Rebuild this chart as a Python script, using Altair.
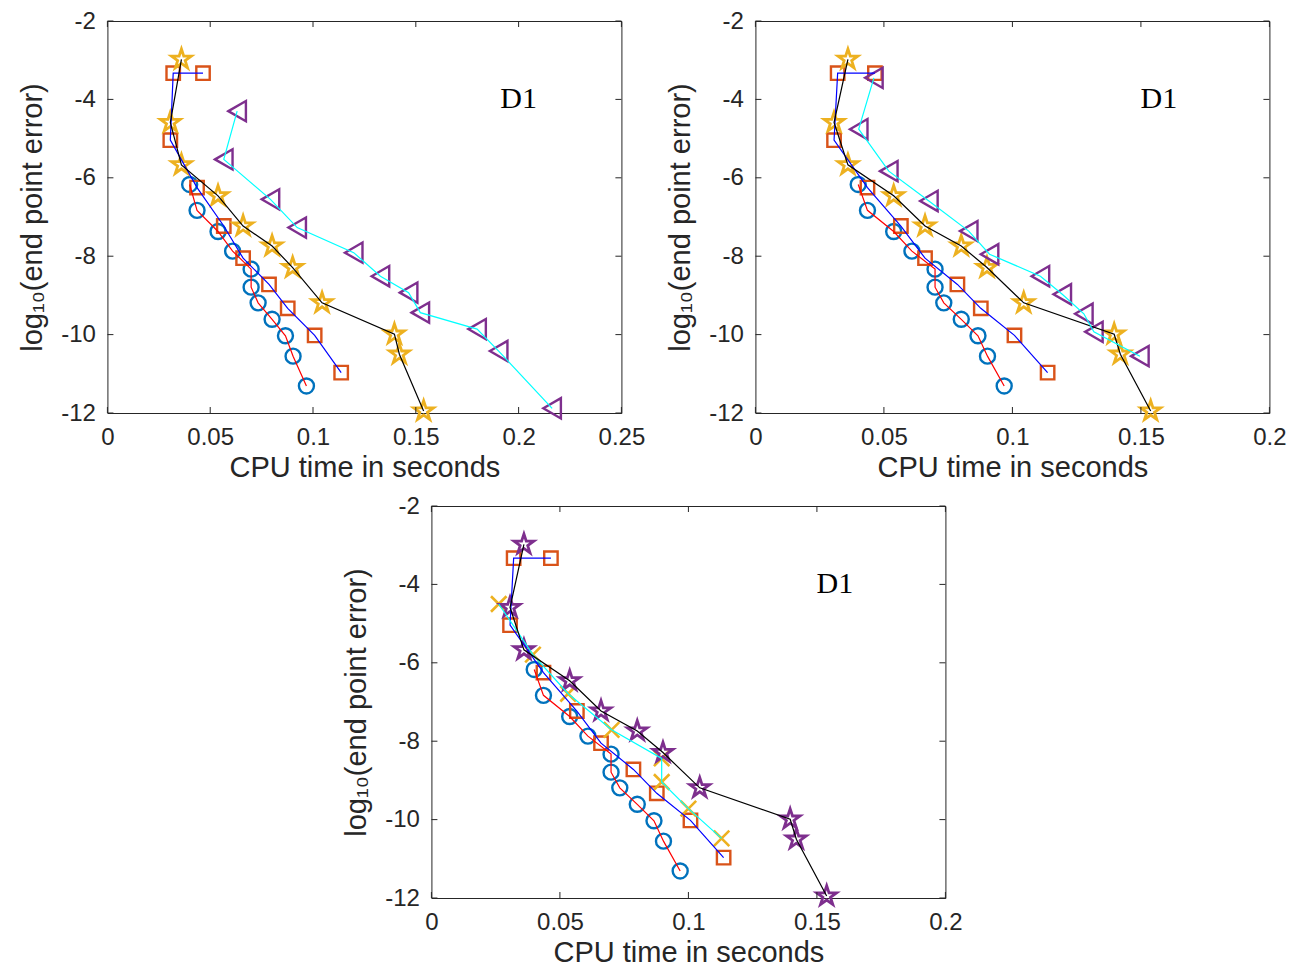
import altair as alt
import pandas as pd

FONT = "Liberation Sans"
TXT = "#262626"

# ---- data ----
circ_x = [0.0400, 0.0436, 0.0538, 0.0609, 0.0699, 0.0699, 0.0733, 0.0801, 0.0866, 0.0903, 0.0968]
circ_y = [-6.17, -6.83, -7.37, -7.87, -8.33, -8.79, -9.19, -9.61, -10.03, -10.55, -11.31]

sq_x = [0.0465, 0.0320, 0.0306, 0.0436, 0.0566, 0.0660, 0.0786, 0.0877, 0.1008, 0.1137]
sq_y = [-3.33, -3.33, -5.04, -6.25, -7.23, -8.05, -8.72, -9.33, -10.02, -10.97]

star_x = [0.0360, 0.0306, 0.0360, 0.0538, 0.0660, 0.0801, 0.0901, 0.1044, 0.1396, 0.1420, 0.1538]
star_y = [-2.98, -4.59, -5.67, -6.46, -7.23, -7.74, -8.29, -9.19, -9.99, -10.50, -11.95]

tri1_x = [0.0631, 0.0566, 0.0793, 0.0923, 0.1198, 0.1328, 0.1465, 0.1522, 0.1798, 0.1903, 0.2163]
tri1_y = [-4.30, -5.53, -6.55, -7.27, -7.91, -8.51, -8.93, -9.44, -9.86, -10.42, -11.88]

tri2_x = [0.0461, 0.0402, 0.0519, 0.0675, 0.0830, 0.0911, 0.1109, 0.1194, 0.1278, 0.1317, 0.1496]
tri2_y = [-3.45, -4.76, -5.83, -6.59, -7.36, -7.95, -8.51, -8.97, -9.47, -9.93, -10.55]

cross_x = [0.0262, 0.0395, 0.0532, 0.0701, 0.0896, 0.0896, 0.1000, 0.1129]
cross_y = [-4.50, -5.79, -6.79, -7.71, -8.44, -9.04, -9.72, -10.48]

x_ticks_1 = [0, 0.05, 0.1, 0.15, 0.2, 0.25]
x_ticks_2 = [0, 0.05, 0.1, 0.15, 0.2]
y_ticks = [-12, -10, -8, -6, -4, -2]

note_text = ["D1"]
note_x = [0.2, 0.157, 0.157]
note_y = [-4.0, -4.0, -4.0]

X_TITLE = "CPU time in seconds"
Y_TITLE = "log\u2081\u2080(end point error)"

CROSS = "M-1,-1L1,1M1,-1L-1,1"
STAR = ("M0,-1L0.2245,-0.309L0.951,-0.309L0.3633,0.118L0.588,0.809L0,0.382"
        "L-0.588,0.809L-0.3633,0.118L-0.951,-0.309L-0.2245,-0.309Z")

W, H = 514, 392


def frame(xs, ys):
    return pd.DataFrame({"x": xs, "y": ys, "i": list(range(len(xs)))})


def panel(series, xmax, xticks, nx, ny):
    xenc = alt.X(
        "x:Q",
        scale=alt.Scale(domain=[0, xmax], nice=False, zero=False),
        axis=alt.Axis(values=xticks, labelExpr="'' + datum.value", ticks=False, tickSize=0,
                      domain=False, grid=False, labelFont=FONT, labelFontSize=24,
                      labelColor=TXT, labelPadding=12, labelFlush=False, labelOverlap=False,
                      titleFont=FONT, titleFontSize=29, titleColor=TXT,
                      titleFontWeight="normal", titlePadding=4),
        title=X_TITLE,
    )
    yenc = alt.Y(
        "y:Q",
        scale=alt.Scale(domain=[-12, -2], nice=False, zero=False),
        axis=alt.Axis(values=y_ticks, labelExpr="'' + datum.value", ticks=False, tickSize=0,
                      domain=False, grid=False, labelFont=FONT, labelFontSize=24,
                      labelColor=TXT, labelPadding=12, labelFlush=False, labelOverlap=False,
                      titleFont=FONT, titleFontSize=29, titleColor=TXT,
                      titleFontWeight="normal", titlePadding=13),
        title=Y_TITLE,
    )
    layers = []
    for s in series:
        d = frame(s["x"], s["y"])
        layers.append(
            alt.Chart(d).mark_point(shape=s["shape"], size=s["size"], filled=False,
                                    strokeWidth=s["sw"], color=s["color"], opacity=1, clip=False)
            .encode(x=xenc, y=yenc)
        )
    for s in series:
        d = frame(s["x"], s["y"])
        layers.append(
            alt.Chart(d).mark_line(color=s["line"], strokeWidth=1.2)
            .encode(x=xenc, y=yenc, order="i:Q")
        )
    tx = pd.DataFrame({"x": xticks})
    ty = pd.DataFrame({"y": y_ticks})
    layers.append(alt.Chart(tx).mark_tick(size=6, thickness=1, color=TXT, opacity=1)
                  .encode(x=xenc, y=alt.value(H - 3)))
    layers.append(alt.Chart(tx).mark_tick(size=6, thickness=1, color=TXT, opacity=1)
                  .encode(x=xenc, y=alt.value(3)))
    layers.append(alt.Chart(ty).mark_tick(size=6, thickness=1, color=TXT, opacity=1)
                  .encode(y=yenc, x=alt.value(3)))
    layers.append(alt.Chart(ty).mark_tick(size=6, thickness=1, color=TXT, opacity=1)
                  .encode(y=yenc, x=alt.value(W - 3)))
    nd = pd.DataFrame({"x": [nx], "y": [ny], "t": note_text})
    layers.append(alt.Chart(nd).mark_text(font="Liberation Serif", fontSize=30, color="black")
                  .encode(x=xenc, y=yenc, text="t:N"))
    return alt.layer(*layers).properties(width=W, height=H)


S_CIRC = dict(x=circ_x, y=circ_y, shape="circle", size=225, sw=2.4, color="#0072BD", line="#FF0000")
S_SQ = dict(x=sq_x, y=sq_y, shape="square", size=180, sw=2.4, color="#D95319", line="#0000FF")
S_STAR_Y = dict(x=star_x, y=star_y, shape=STAR, size=430, sw=2.8, color="#EDB120", line="#000000")
S_TRI1 = dict(x=tri1_x, y=tri1_y, shape="triangle-left", size=410, sw=2.4, color="#7E2F8E", line="#00FFFF")
S_TRI2 = dict(x=tri2_x, y=tri2_y, shape="triangle-left", size=410, sw=2.4, color="#7E2F8E", line="#00FFFF")
S_CROSS = dict(x=cross_x, y=cross_y, shape=CROSS, size=240, sw=2.6, color="#EDB120", line="#00FFFF")
S_STAR_P = dict(x=star_x, y=star_y, shape=STAR, size=430, sw=2.8, color="#7E2F8E", line="#000000")

p1 = panel([S_CIRC, S_SQ, S_STAR_Y, S_TRI1], 0.25, x_ticks_1, note_x[0], note_y[0])
p2 = panel([S_CIRC, S_SQ, S_STAR_Y, S_TRI2], 0.2, x_ticks_2, note_x[1], note_y[1])
p3 = panel([S_CIRC, S_SQ, S_CROSS, S_STAR_P], 0.2, x_ticks_2, note_x[2], note_y[2])

top = alt.hconcat(p1, p2, spacing=20)
chart = (
    alt.vconcat(top, p3, spacing=10, center=True)
    .properties(padding={"left": 18, "top": 8, "right": 5, "bottom": 5})
    .configure_view(stroke=TXT, strokeWidth=1)
)

chart.save("out.html", embed_options={"renderer": "svg", "actions": False})
